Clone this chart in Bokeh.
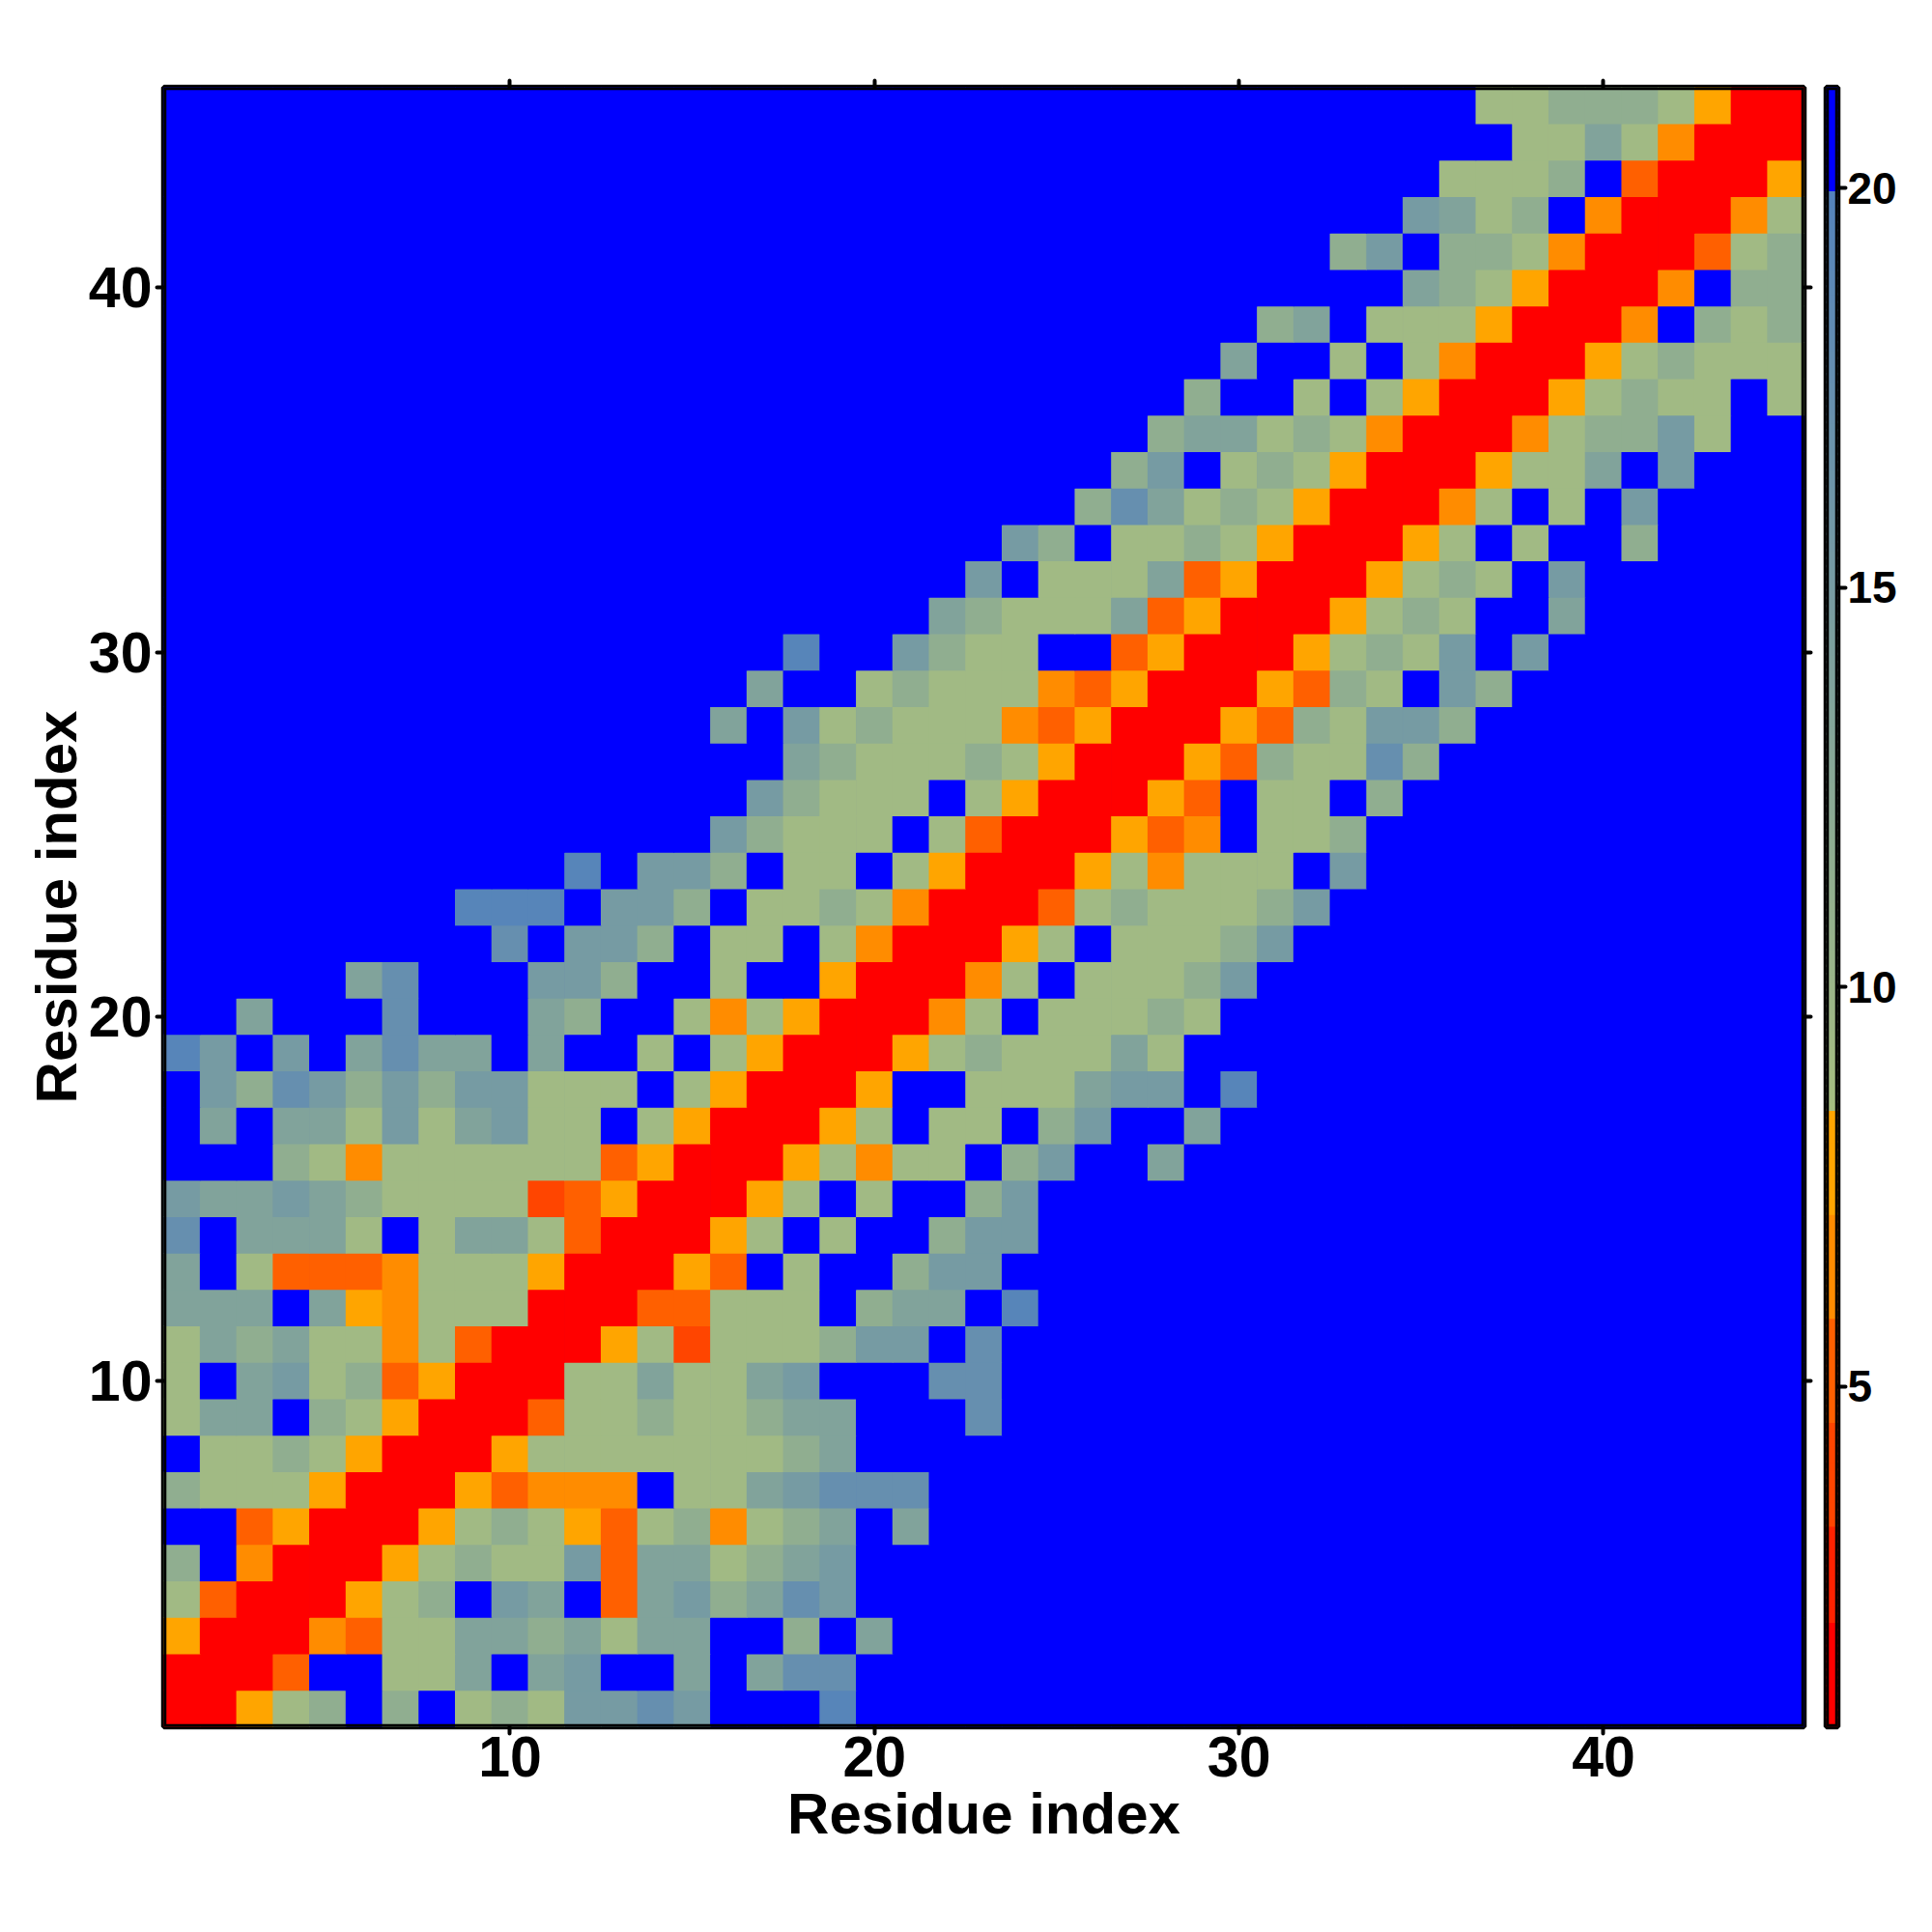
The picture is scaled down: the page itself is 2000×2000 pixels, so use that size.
import numpy as np
from bokeh.plotting import figure
from bokeh.layouts import row
from bokeh.models import LinearAxis, FixedTicker, LinearColorMapper, ColumnDataSource, BoxAnnotation
from bokeh.transform import transform
from bokeh.embed import file_html
from bokeh.resources import INLINE

# distance class of each residue pair, row 1 (bottom) to row 45 (top)
CLASS_VALUE = {"R": 1.5, "T": 3.9, "O": 5.2, "A": 6.5, "Y": 7.8, "g": 9.2, "h": 11.5,
               "i": 13.6, "j": 15.2, "k": 17.5, "l": 19.5, "B": 21.0}
MATRIX_ROWS = [
    "RRYghBhBghgjjkjBBBl",
    "RRROBBggiBijBBiBikk",
    "YRRRAOggiihigiiBBhBi",
    "gORRRYghBjiBOijhikj",
    "hBARRRYghggjOiighij",
    "BBOYRRRYghgYOghAghiBi",
    "hgggYRRRYOAAABggijkkk",
    "BgghgYRRRYggggggghi",
    "giiBhgYRRROgghgghiiBBBk",
    "gBijghOYRRRggiggijBBBkk",
    "gihiggAgORRRYgTggghjjBk",
    "iiiBiYAgggRRROOgggBhiiBl",
    "iBgOOOAgggYRRRYOBgBBhjj",
    "kBiiigBgiigORRRYgBgBBhjj",
    "jiijihggggTOYRRRYgBgBBhj",
    "BBBhgAggggggOYRRRYgAggBhjBBi",
    "BiBiigjgijggBgYRRRYgBggBhjBBi",
    "BjhkjhjhjjgggBgYRRRYBBgggijjBl",
    "ljBjBikiiBiBBgBgYRRRYghgggig",
    "BBiBBBkBBBihBBgAgYRRRAgBggghg",
    "BBBBBikBBBjjhBBgBBYRRRAgBggghj",
    "BBBBBBBBBkBjjhBggBgARRRYgBggghj",
    "BBBBBBBBlllBjjhBgghgARRROghggghj",
    "BBBBBBBBBBBlBjjhBggBgYRRRYgAgggBj",
    "B" * 15 + "jhgggBgORRRYOABggh",
    "B" * 16 + "jhgggBgYRRRYOBggBh",
    "B" * 17 + "ihggghgYRRRYOhggkh",
    "B" * 15 + "iBjghgggAOYRRRYOhgjjh",
    "B" * 16 + "iBBghgggAOYRRRYOhgBjh",
    "B" * 17 + "lBBjhggBBOYRRRYghgjBj",
    "B" * 21 + "ihgggiOYRRRYghgBBi",
    "B" * 22 + "jBgggiOYRRRYghgBj",
    "B" * 23 + "jhBgghgYRRRYgBgBBh",
    "B" * 25 + "hkighgYRRRAgBgBj",
    "B" * 26 + "hjBghgYRRRYggiBj",
    "B" * 27 + "hiighgARRRAghhjg",
    "B" * 28 + "hBBgBgYRRRYghggBg",
    "B" * 29 + "iBBgBgARRRYghggg",
    "B" * 30 + "hiBgggYRRRABhgh",
    "B" * 34 + "ihgYRRRABhh",
    "B" * 32 + "hjBhhgARRROgh",
    "B" * 34 + "jighBARRRAg",
    "B" * 35 + "ggghBORRRY",
    "B" * 37 + "ggigARRR",
    "B" * 36 + "gghhhgYRR",
]
# colour stops
BAND_EDGES = [0.74, 2.0, 3.28, 4.55, 5.85, 7.15, 8.43]
BAND_COLORS = ["#ff0000", "#ff2200", "#ff4500", "#ff6000", "#ff8c00", "#ffa500"]
GREEN_STOP = (166, 190, 128)
STEEL_STOP = (84, 130, 188)
BLUE_FROM = 20.0
CB_LOW, CB_HIGH = 0.74, 21.26
AXIS_TICKS = [10, 20, 30, 40]
CB_TICKS = [5, 10, 15, 20]
AXIS_TITLE = "Residue index"
FONT = "Liberation Sans"


def palette_for(values):
    out = []
    for v in values:
        if v >= BLUE_FROM:
            out.append("#0000ff")
        elif v >= BAND_EDGES[-1]:
            t = (v - BAND_EDGES[-1]) / (BLUE_FROM - BAND_EDGES[-1])
            c = [round(a + (b - a) * t) for a, b in zip(GREEN_STOP, STEEL_STOP)]
            out.append("#%02x%02x%02x" % tuple(c))
        else:
            k = int(np.searchsorted(BAND_EDGES, v, side="right")) - 1
            out.append(BAND_COLORS[max(k, 0)])
    return out


n_bins = 205
edges = np.linspace(CB_LOW, CB_HIGH, n_bins + 1)
mids = (edges[:-1] + edges[1:]) / 2
palette = palette_for(mids)
mapper = LinearColorMapper(palette=palette, low=CB_LOW, high=CB_HIGH)

xs, ys, vals = [], [], []
for r, text in enumerate(MATRIX_ROWS, start=1):
    text = text.ljust(45, "B")[:45]
    for c, ch in enumerate(text, start=1):
        xs.append(c)
        ys.append(r)
        vals.append(CLASS_VALUE[ch])
source = ColumnDataSource(dict(x=xs, y=ys, v=vals))

p = figure(output_backend="svg", toolbar_location=None, x_range=(0.5, 45.5), y_range=(0.5, 45.5),
           frame_width=1698, frame_height=1697, min_border_left=169, min_border_right=13,
           min_border_top=90, min_border_bottom=190, x_axis_location=None, y_axis_location=None)
p.grid.visible = False
p.rect("x", "y", 1.02, 1.02, source=source, fill_color=transform("v", mapper), line_color=None)
p.outline_line_color = "black"
p.outline_line_width = 5.5
p.background_fill_color = "#0000ff"
p.add_layout(BoxAnnotation(left=0.5, right=45.5, bottom=0.5, top=45.5, fill_color=None,
                           line_color="black", line_alpha=1, line_width=5.5, level="overlay"))


def style(ax, side):
    ax.ticker = FixedTicker(ticks=AXIS_TICKS)
    ax.axis_line_color = None
    ax.major_tick_line_color = "black"
    ax.major_tick_line_width = 4
    ax.major_tick_line_cap = "round"
    ax.major_tick_in = 0
    ax.major_tick_out = 7
    ax.minor_tick_line_color = None
    if side in ("below", "left"):
        ax.major_label_text_font = FONT
        ax.major_label_text_font_style = "bold"
        ax.major_label_text_font_size = "59px"
        ax.major_label_text_color = "black"
        ax.major_label_standoff = 3 if side == "below" else 5
        ax.axis_label = AXIS_TITLE
        ax.axis_label_text_font = FONT
        ax.axis_label_text_font_style = "bold"
        ax.axis_label_text_font_size = "60px"
        ax.axis_label_text_color = "black"
        ax.axis_label_standoff = 2 if side == "below" else -3
    else:
        ax.major_label_text_font_size = "0px"
        ax.major_label_text_color = None
        ax.major_label_standoff = 0


for side in ("below", "left", "above", "right"):
    a = LinearAxis()
    style(a, side)
    p.add_layout(a, side)

cb = figure(output_backend="svg", toolbar_location=None, x_range=(0, 1), y_range=(CB_LOW, CB_HIGH),
            frame_width=12, frame_height=1697, min_border_left=10, min_border_right=80,
            min_border_top=90, min_border_bottom=190, x_axis_location=None, y_axis_location=None)
cb.grid.visible = False
cb.quad(left=0, right=1, bottom=edges[:-1], top=edges[1:] + 0.03, fill_color=palette, line_color=None)
cb.outline_line_color = "black"
cb.outline_line_width = 5.5
cb.add_layout(BoxAnnotation(left=0, right=1, bottom=CB_LOW, top=CB_HIGH, fill_color=None,
                            line_color="black", line_alpha=1, line_width=5.5, level="overlay"))
cax = LinearAxis(ticker=FixedTicker(ticks=CB_TICKS))
cax.axis_line_color = None
cax.major_tick_line_color = "black"
cax.major_tick_line_width = 4
cax.major_tick_line_cap = "round"
cax.major_tick_in = 0
cax.major_tick_out = 8
cax.minor_tick_line_color = None
cax.major_label_text_font = FONT
cax.major_label_text_font_style = "bold"
cax.major_label_text_font_size = "46px"
cax.major_label_text_color = "black"
cax.major_label_standoff = 2
cb.add_layout(cax, "right")

page = row(p, cb, spacing=0)
open("out.html", "w").write(file_html(page, INLINE))
